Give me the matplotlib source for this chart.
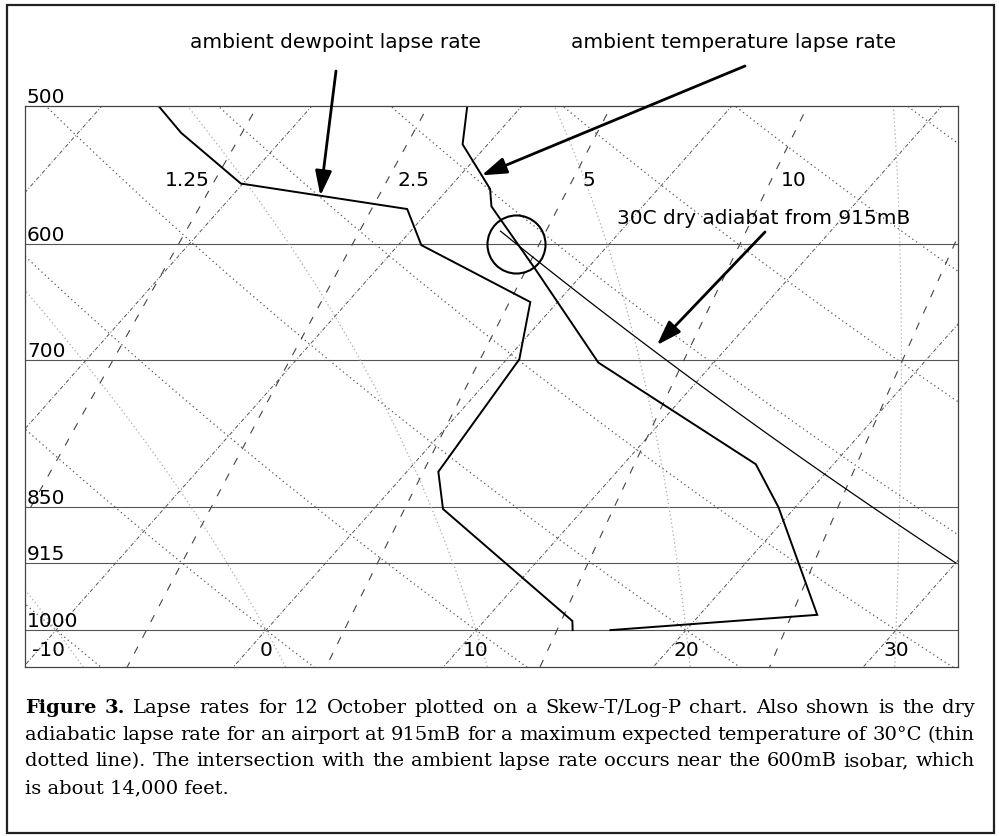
import numpy as np
import matplotlib
matplotlib.use("Agg")
import matplotlib.pyplot as plt
from matplotlib.patches import Rectangle
from matplotlib.ticker import NullLocator

# ---------------- data ----------------
temp_p = [1000, 980, 850, 803, 702, 621, 571, 558, 526, 500]
temp_c = [16.4, 25.6, 19.2, 16.3, 4.5, -2.4, -7.2, -8.0, -11.2, -12.6]

dew_p = [1000, 988, 852, 811, 699, 648, 601, 573, 554, 518, 500]
dew_c = [14.6, 14.2, 3.3, 1.5, 0.6, -1.3, -8.9, -11.1, -20.1, -25.1, -27.3]

parcel_start_c = 30.0      # 30C max temperature
parcel_start_p = 915.0     # airport at 915 mB
parcel_end_p = 590.0
intersect_p = 600.0

isobars = [600, 700, 850, 915, 1000]
isobar_label_p = [500, 600, 700, 850, 915, 1000]
isobar_labels = ["500", "600", "700", "850", "915", "1000"]
isotherm_labels = [-10, 0, 10, 20, 30]
isotherms = list(range(-90, 51, 10))
mixing_ratios = [1.25, 2.5, 5, 10, 20]
mixing_labels = ["1.25", "2.5", "5", "10"]
dry_thetas = list(range(-30, 141, 10))
moist_thetas = [-20, -10, 0, 10, 20, 30, 40]

SKEW = 32.0
P_TOP, P_BOT = 500.0, 1050.0
X_MIN, X_MAX = -11.48, 32.95
W, H = 999, 837
SANS = "DejaVu Sans"
SERIF = "DejaVu Serif"


def skew_x(t, p):
    return np.asarray(t, float) + SKEW * np.log(1000.0 / np.asarray(p, float))


def dry_adiabat(theta_c, p):
    return (theta_c + 273.15) * (np.asarray(p, float) / 1000.0) ** 0.2857 - 273.15


def mixing_td(w, p):
    e = w * np.asarray(p, float) / (622.0 + w)
    a = np.log(e / 6.112)
    return 243.5 * a / (17.67 - a)


def _dtdp(T, p):
    es = 6.112 * np.exp(17.67 * (T - 273.15) / (T - 29.65))
    rs = 0.622 * es / (p - es)
    Rd, cp, Lv = 287.04, 1005.7, 2.501e6
    return (Rd * T + Lv * rs) / p / (cp + Lv * Lv * rs * 0.622 / (Rd * T * T))


def moist_branch(t0_c, p_end, n=300):
    ps = np.linspace(1000.0, p_end, n)
    T = t0_c + 273.15
    out = [T]
    for i in range(n - 1):
        h = ps[i + 1] - ps[i]
        k1 = _dtdp(T, ps[i])
        k2 = _dtdp(T + h * k1 / 2, ps[i] + h / 2)
        k3 = _dtdp(T + h * k2 / 2, ps[i] + h / 2)
        k4 = _dtdp(T + h * k3, ps[i + 1])
        T = T + h * (k1 + 2 * k2 + 2 * k3 + k4) / 6
        out.append(T)
    return ps, np.array(out) - 273.15


def moist_adiabat(t0_c):
    pu, tu = moist_branch(t0_c, P_TOP - 5)
    pd, td = moist_branch(t0_c, P_BOT + 5, 40)
    return np.concatenate([pd[::-1], pu[1:]]), np.concatenate([td[::-1], tu[1:]])


fig = plt.figure(figsize=(W / 100, H / 100), dpi=100)
ax = fig.add_axes([25 / W, (H - 668) / H, 933 / W, 561 / H])
ax.set_yscale("log")
ax.set_ylim(P_BOT, P_TOP)
ax.set_xlim(X_MIN, X_MAX)
ax.set_xticks([])
ax.set_yticks([])
ax.yaxis.set_minor_locator(NullLocator())
ax.xaxis.set_minor_locator(NullLocator())
for s in ax.spines.values():
    s.set_color("#444444")
    s.set_linewidth(0.9)

pp = np.geomspace(P_TOP - 5, P_BOT + 5, 200)

# isobars
for p in isobars:
    ax.axhline(p, color="#555555", lw=0.8)

# isotherms (dash-dot)
for t in isotherms:
    ax.plot(skew_x(np.full_like(pp, t), pp), pp, color="#555555", lw=0.7,
            ls=(0, (4, 2, 1, 2)))

# dry adiabats (dotted)
for th in dry_thetas:
    ax.plot(skew_x(dry_adiabat(th, pp), pp), pp, color="#555555", lw=0.9,
            ls=(0, (1, 2.6)))

# moist adiabats (light dotted)
for tw in moist_thetas:
    mp, mt = moist_adiabat(tw)
    ax.plot(skew_x(mt, mp), mp, color="#aaaaaa", lw=0.9, ls=(0, (1, 2.2)))

# mixing ratio lines (long dashes)
for w in mixing_ratios:
    ax.plot(skew_x(mixing_td(w, pp), pp), pp, color="#444444", lw=0.8,
            ls=(0, (7, 9)))

label_p = 551.0
for i, (w, lab) in enumerate(zip(mixing_ratios, mixing_labels)):
    x = float(skew_x(mixing_td(w, label_p), label_p))
    if i == 0:
        ax.text(x - 0.25, label_p, lab, fontsize=14.5, family=SANS,
                ha="right", va="center")
    else:
        ax.text(x + 0.45, label_p, lab, fontsize=14.5, family=SANS,
                ha="left", va="center")

# isobar labels
for p, lab in zip(isobar_label_p, isobar_labels):
    ax.annotate(lab, xy=(0, p), xycoords=("axes fraction", "data"),
                xytext=(2, 4), textcoords="offset pixels", fontsize=14.5,
                family=SANS, ha="left", va="baseline")

# temperature labels
for t in isotherm_labels:
    ax.annotate(str(t), xy=(t, 1025.5), xycoords="data",
                xytext=(-8 if t < 0 else 0, 0), textcoords="offset pixels",
                fontsize=14.5, family=SANS, ha="center", va="center")

# soundings
ax.plot(skew_x(temp_c, temp_p), temp_p, color="black", lw=1.4, solid_joinstyle="miter")
ax.plot(skew_x(dew_c, dew_p), dew_p, color="black", lw=1.4, solid_joinstyle="miter")

# 30C dry adiabat from 915 mB
theta_parcel = (parcel_start_c + 273.15) * (1000.0 / parcel_start_p) ** 0.2857 - 273.15
ap = np.geomspace(parcel_end_p, parcel_start_p, 100)
ax.plot(skew_x(dry_adiabat(theta_parcel, ap), ap), ap, color="black", lw=0.9)

# intersection circle
cx = float(skew_x(dry_adiabat(theta_parcel, intersect_p), intersect_p))
ax.plot([cx], [intersect_p], marker="o", ms=41.8, mfc="none", mec="black", mew=1.5)

# annotations
arrow = dict(arrowstyle="-|>,head_length=0.75,head_width=0.25", lw=2.0,
             color="black", shrinkA=0, shrinkB=0, mutation_scale=20)


def interp_line(pl, tl, p):
    lp = np.log(pl)
    order = np.argsort(lp)
    return float(np.interp(np.log(p), lp[order], np.asarray(tl)[order]))


p_dtip = 563.0
ax.annotate("", xy=(skew_x(interp_line(dew_p, dew_c, p_dtip), p_dtip), p_dtip),
            xytext=(336, H - 72), textcoords="figure pixels", arrowprops=arrow)
p_ttip = 548.0
ax.annotate("", xy=(skew_x(interp_line(temp_p, temp_c, p_ttip), p_ttip), p_ttip),
            xytext=(745, H - 67), textcoords="figure pixels", arrowprops=arrow)
p_atip = 686.0
ax.annotate("", xy=(skew_x(dry_adiabat(theta_parcel, p_atip), p_atip) + 0.5, p_atip),
            xytext=(765, H - 233), textcoords="figure pixels", arrowprops=arrow)

fig.text(335 / W, 1 - 42 / H, "ambient dewpoint lapse rate", fontsize=14.5,
         family=SANS, ha="center", va="center")
fig.text(734 / W, 1 - 42 / H, "ambient temperature lapse rate", fontsize=14.5,
         family=SANS, ha="center", va="center")
fig.text(764 / W, 1 - 218 / H, "30C dry adiabat from 915mB", fontsize=14.5,
         family=SANS, ha="center", va="center")

# outer frame
fig.add_artist(Rectangle((7 / W, 1 - 834 / H), 987 / W, 828 / H,
                         transform=fig.transFigure, fill=False, lw=1.6,
                         ec="#222222"))

# caption (justified)
cap_lines = [
    [("Figure", "bold"), ("3.", "bold")] + [(w, "normal") for w in
        "Lapse rates for 12 October plotted on a Skew-T/Log-P chart. Also shown is the dry".split()],
    [(w, "normal") for w in
        "adiabatic lapse rate for an airport at 915mB for a maximum expected temperature of 30\u00b0C (thin".split()],
    [(w, "normal") for w in
        "dotted line). The intersection with the ambient lapse rate occurs near the 600mB isobar, which".split()],
]
cap_last = "is about 14,000 feet."
cap_base = [713, 740, 766, 793]
CAP_FS = 14.0

renderer = fig.canvas.get_renderer()
for words, yb in zip(cap_lines, cap_base[:3]):
    arts = [fig.text(0, 0, s, fontsize=CAP_FS, family=SERIF, weight=wt,
                     ha="left", va="baseline") for s, wt in words]
    widths = [a.get_window_extent(renderer).width for a in arts]
    gap = max((950 - sum(widths)) / (len(arts) - 1), 2.0)
    x = 25.0
    for a, wd in zip(arts, widths):
        a.set_position((x / W, 1 - yb / H))
        x += wd + gap
fig.text(25 / W, 1 - cap_base[3] / H, cap_last, fontsize=CAP_FS, family=SERIF,
         ha="left", va="baseline")

fig.savefig("out.png", dpi=100)
